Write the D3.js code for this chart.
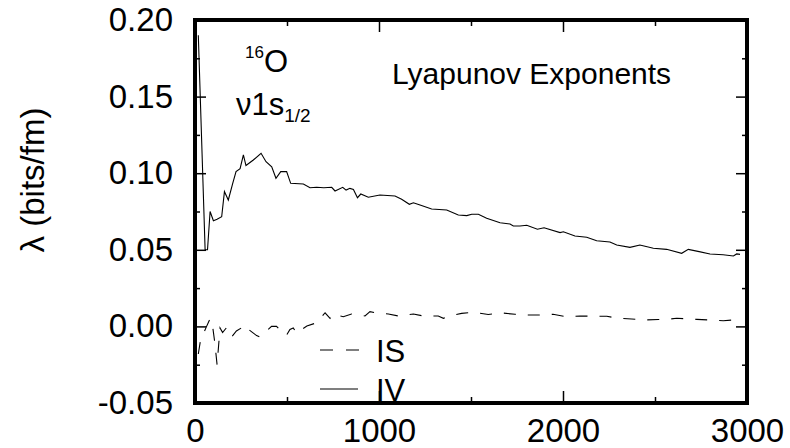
<!DOCTYPE html>
<html>
<head>
<meta charset="utf-8">
<script src="https://cdn.jsdelivr.net/npm/d3@7"></script>
<style>
html,body{margin:0;padding:0;background:#fff;}
text{font-family:"Liberation Sans",Arial,sans-serif;fill:#000;}
</style>
</head>
<body>
<svg id="chart" width="790" height="448"></svg>
<script>
// ---- data ----
const xTicks = [0, 1000, 2000, 3000];
const xMinorTicks = [500, 1500, 2500];
const yTicks = [-0.05, 0.00, 0.05, 0.10, 0.15, 0.20];
const yMinorTicks = [-0.025, 0.025, 0.075, 0.125, 0.175];
const yTickLabels = ["-0.05", "0.00", "0.05", "0.10", "0.15", "0.20"];

const ivTime = [18, 55, 68, 82, 100, 120, 145, 160, 181, 205, 223, 245, 263, 277, 317, 359, 386, 417, 440, 466, 498, 520, 589, 625, 661, 700, 743, 761, 803, 821, 842, 861, 883, 901, 942, 1005, 1087, 1123, 1165, 1187, 1223, 1286, 1368, 1431, 1477, 1504, 1540, 1585, 1658, 1712, 1730, 1766, 1803, 1861, 1897, 1984, 2002, 2065, 2129, 2183, 2255, 2292, 2364, 2418, 2491, 2563, 2645, 2681, 2740, 2799, 2870, 2926, 2944, 2962];
const ivValue = [0.190, 0.050, 0.050, 0.075, 0.069, 0.070, 0.0716, 0.088, 0.0825, 0.0934, 0.101, 0.103, 0.112, 0.105, 0.1086, 0.113, 0.1075, 0.1042, 0.0967, 0.101, 0.101, 0.0934, 0.093, 0.0905, 0.0908, 0.0905, 0.0908, 0.0884, 0.0908, 0.089, 0.0901, 0.0894, 0.084, 0.0864, 0.0843, 0.0858, 0.0851, 0.083, 0.0797, 0.0807, 0.0792, 0.0766, 0.076, 0.0727, 0.0723, 0.0732, 0.0732, 0.0706, 0.0677, 0.0668, 0.0655, 0.0655, 0.066, 0.0634, 0.0644, 0.0612, 0.0618, 0.059, 0.0582, 0.0559, 0.0551, 0.0531, 0.0516, 0.0531, 0.051, 0.0503, 0.0477, 0.0503, 0.0488, 0.0473, 0.0468, 0.046, 0.0473, 0.047];

const isTime = [18, 30, 63, 82, 98, 108, 120, 136, 150, 170, 198, 225, 252, 266, 280, 335, 353, 371, 416, 443, 462, 471, 498, 516, 534, 552, 580, 608, 662, 707, 734, 752, 806, 851, 924, 951, 978, 1051, 1105, 1187, 1241, 1322, 1350, 1377, 1449, 1512, 1594, 1658, 1739, 1803, 1873, 1946, 2020, 2092, 2165, 2238, 2301, 2373, 2446, 2518, 2582, 2618, 2727, 2799, 2871, 2926];
const isValue = [-0.018, -0.009, 0.000, 0.005, -0.002, -0.011, -0.025, -0.001, -0.004, -0.001, -0.007, -0.003, -0.001, 0.001, -0.001, -0.006, -0.007, -0.005, 0.000, 0.000, -0.0024, -0.0045, -0.0056, -0.002, -0.001, -0.0045, -0.002, 0.0003, 0.0024, 0.0089, 0.0053, 0.0081, 0.0063, 0.0081, 0.0068, 0.0096, 0.0089, 0.0081, 0.0068, 0.0081, 0.0068, 0.0068, 0.0053, 0.0068, 0.0085, 0.0092, 0.0078, 0.0089, 0.0079, 0.0074, 0.0074, 0.0079, 0.0063, 0.0068, 0.0066, 0.0066, 0.0053, 0.0048, 0.0042, 0.0045, 0.0048, 0.0053, 0.0046, 0.0042, 0.0037, 0.0042];

const legendLabels = ["IS", "IV"];

// ---- layout ----
const svg = d3.select("#chart");
const pLeft = 195, pRight = 747, pTop = 20, pBottom = 403;
const x = d3.scaleLinear().domain([0, 3000]).range([pLeft, pRight]);
const y = d3.scaleLinear().domain([-0.05, 0.20]).range([pBottom, pTop]);

const line = d3.line().x(d => x(d[0])).y(d => y(d[1]));
const ivData = ivTime.map((t, i) => [t, ivValue[i]]);
const isData = isTime.map((t, i) => [t, isValue[i]]);

// curves
svg.append("path").datum(ivData).attr("d", line)
  .attr("fill", "none").attr("stroke", "#000").attr("stroke-width", 1.1);
svg.append("path").datum(isData).attr("d", line)
  .attr("fill", "none").attr("stroke", "#000").attr("stroke-width", 1.1)
  .attr("stroke-dasharray", "12,12");

// axes (ticks inward)
function styleAxis(g) {
  g.select(".domain").remove();
  g.selectAll(".tick line").attr("stroke", "#000").attr("stroke-width", 1.5);
  g.selectAll(".tick text").style("font-family", '"Liberation Sans", Arial, sans-serif').style("font-size", "33px").attr("fill", "#000");
}
svg.append("g").attr("transform", `translate(${pLeft},0)`)
  .call(d3.axisLeft(y).tickValues(yTicks).tickSize(-11).tickPadding(22).tickFormat((d, i) => yTickLabels[i]))
  .call(styleAxis);
svg.append("g").attr("transform", `translate(${pLeft},0)`)
  .call(d3.axisLeft(y).tickValues(yMinorTicks).tickSize(-5).tickFormat(""))
  .call(styleAxis);
svg.append("g").attr("transform", `translate(${pRight},0)`)
  .call(d3.axisRight(y).tickValues(yTicks).tickSize(-11).tickFormat(""))
  .call(styleAxis);
svg.append("g").attr("transform", `translate(${pRight},0)`)
  .call(d3.axisRight(y).tickValues(yMinorTicks).tickSize(-5).tickFormat(""))
  .call(styleAxis);
svg.append("g").attr("transform", `translate(0,${pBottom})`)
  .call(d3.axisBottom(x).tickValues(xTicks).tickSize(-12).tickPadding(16).tickFormat(d3.format("d")))
  .call(styleAxis);
svg.append("g").attr("transform", `translate(0,${pBottom})`)
  .call(d3.axisBottom(x).tickValues(xMinorTicks).tickSize(-6).tickFormat(""))
  .call(styleAxis);
svg.append("g").attr("transform", `translate(0,${pTop})`)
  .call(d3.axisTop(x).tickValues(xTicks).tickSize(-12).tickFormat(""))
  .call(styleAxis);
svg.append("g").attr("transform", `translate(0,${pTop})`)
  .call(d3.axisTop(x).tickValues(xMinorTicks).tickSize(-6).tickFormat(""))
  .call(styleAxis);

// frame
svg.append("rect").attr("x", pLeft).attr("y", pTop)
  .attr("width", pRight - pLeft).attr("height", pBottom - pTop)
  .attr("fill", "none").attr("stroke", "#000").attr("stroke-width", 4);

// y axis title
svg.append("text")
  .attr("transform", "translate(44,180) rotate(-90)")
  .attr("text-anchor", "middle")
  .style("font-size", "33px")
  .text("λ (bits/fm)");

// annotations
const t1 = svg.append("text").attr("x", 245).attr("y", 72).style("font-size", "31px");
t1.append("tspan").style("font-size", "17px").attr("dy", "-14").text("16");
t1.append("tspan").attr("dy", "14").text("O");

const t2 = svg.append("text").attr("x", 236).attr("y", 115).style("font-size", "31px");
t2.append("tspan").text("ν1s");
t2.append("tspan").style("font-size", "19px").attr("dy", "7").text("1/2");

svg.append("text").attr("x", 392).attr("y", 84).style("font-size", "30px").text("Lyapunov Exponents");

// legend
const legY = [350, 389];
svg.append("line").attr("x1", 320).attr("x2", 359).attr("y1", legY[0]).attr("y2", legY[0])
  .attr("stroke", "#000").attr("stroke-width", 1.1).attr("stroke-dasharray", "13,13");
svg.append("line").attr("x1", 320).attr("x2", 358).attr("y1", legY[1]).attr("y2", legY[1])
  .attr("stroke", "#000").attr("stroke-width", 1.1);
legendLabels.forEach((lab, i) => {
  svg.append("text").attr("x", 376).attr("y", legY[i] + 10).attr("dy", "0.05em")
    .style("font-size", "31px").text(lab);
});
</script>
</body>
</html>
